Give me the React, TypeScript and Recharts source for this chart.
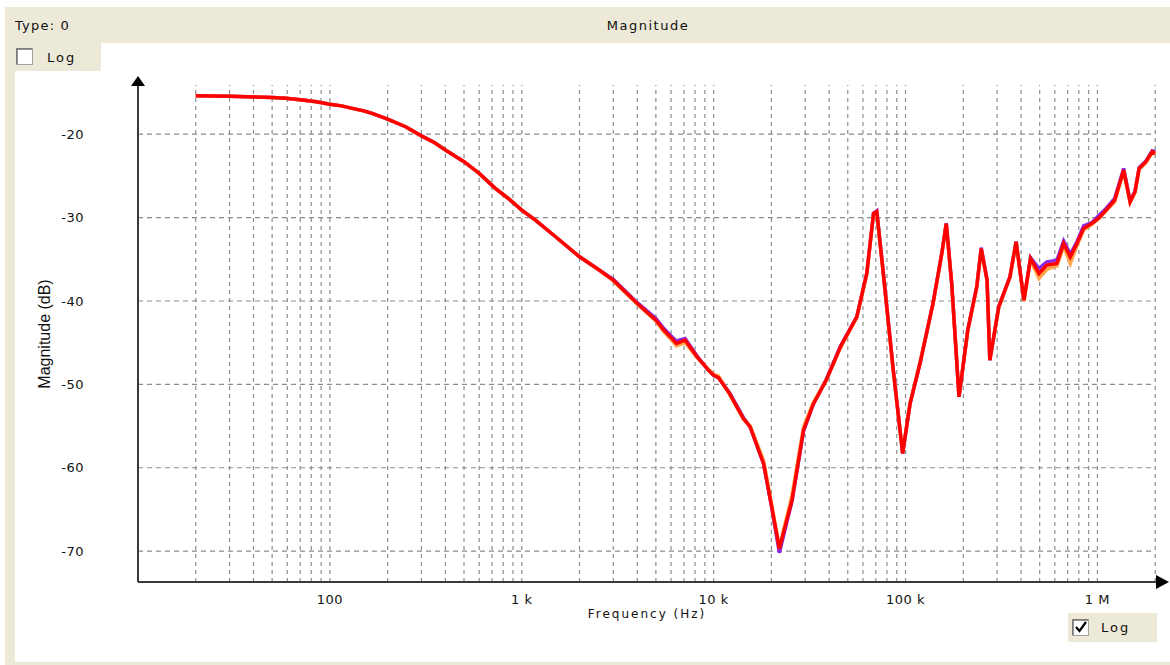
import React from "react";
import { LineChart, Line, XAxis, YAxis, ReferenceLine } from "recharts";

// frequency points (Hz) and magnitudes (dB)
const FREQS = [
  20, 30, 41, 50, 59, 72, 85, 100, 115, 131,
  150, 166, 200, 248, 300, 350, 400, 500, 600, 728,
  850, 1000, 1178, 1500, 2000, 2500, 3000, 4000, 5000, 5500,
  6000, 6400, 7100, 8200, 9400, 10000, 10600, 12100, 14300, 15500,
  18200, 20000, 22000, 25600, 29400, 33000, 38600, 45800, 55700, 62800,
  68100, 70800, 76600, 86300, 96600, 105600, 118900, 139000, 155000, 163000,
  174000, 190000, 211000, 235000, 248000, 266000, 275000, 292000, 306000, 350000,
  377000, 414000, 448000, 496000, 545000, 615000, 667000, 722000, 782000, 847000,
  936000, 1010000, 1110000, 1230000, 1370000, 1480000, 1570000, 1650000, 1790000, 1930000,
  2000000,
];

const RED_DB = [
  -15.4, -15.45, -15.55, -15.6, -15.7, -15.9, -16.1, -16.4, -16.6, -16.9,
  -17.2, -17.5, -18.2, -19.1, -20.2, -21.0, -21.9, -23.3, -24.7, -26.5,
  -27.7, -29.1, -30.3, -32.3, -34.7, -36.2, -37.5, -40.3, -42.3, -43.5,
  -44.4, -45.1, -44.7, -46.7, -48.3, -48.9, -49.2, -51.1, -54.1, -55.1,
  -59.5, -64.5, -69.7, -63.9, -55.5, -52.4, -49.5, -45.5, -41.9, -36.7,
  -29.5, -29.3, -36.7, -48.3, -58.3, -52.3, -47.5, -40.3, -34.1, -30.7,
  -37.9, -51.5, -43.5, -38.3, -33.7, -37.5, -47.1, -43.5, -40.7, -37.1,
  -32.9, -39.9, -34.9, -36.7, -35.7, -35.5, -33.1, -34.7, -33.1, -31.3,
  -30.7, -30.1, -29.1, -27.9, -24.3, -28.1, -26.9, -24.1, -23.3, -22.1,
  -22.3,
];

const PURPLE_DB = [
  -15.4, -15.45, -15.55, -15.6, -15.7, -15.9, -16.1, -16.4, -16.6, -16.9,
  -17.2, -17.5, -18.2, -19.1, -20.2, -21.0, -21.9, -23.3, -24.7, -26.5,
  -27.7, -29.1, -30.3, -32.3, -34.7, -36.2, -37.4, -40.2, -42.1, -43.3,
  -44.2, -44.8, -44.5, -46.6, -48.3, -48.9, -49.2, -51.0, -54.0, -55.1,
  -59.5, -64.6, -70.2, -64.0, -55.6, -52.4, -49.4, -45.4, -41.9, -36.7,
  -29.5, -29.2, -36.6, -48.2, -58.3, -52.3, -47.5, -40.3, -34.1, -30.7,
  -37.9, -51.5, -43.5, -38.3, -33.6, -37.5, -47.1, -43.5, -40.7, -37.1,
  -32.9, -39.9, -34.8, -36.1, -35.3, -35.1, -32.8, -34.4, -32.9, -31.0,
  -30.6, -29.8, -28.9, -27.7, -24.1, -28.0, -26.8, -24.0, -23.2, -22.0,
  -22.1,
];

const ORANGE_DB = [
  -15.4, -15.45, -15.55, -15.6, -15.7, -15.9, -16.1, -16.4, -16.6, -16.9,
  -17.2, -17.5, -18.2, -19.1, -20.2, -21.0, -21.9, -23.3, -24.7, -26.5,
  -27.7, -29.1, -30.3, -32.3, -34.7, -36.2, -37.6, -40.4, -42.4, -43.7,
  -44.6, -45.4, -45.0, -46.8, -48.2, -48.8, -49.0, -51.2, -54.2, -55.0,
  -59.1, -64.2, -69.5, -63.3, -55.1, -52.2, -49.5, -45.6, -42.0, -36.8,
  -29.6, -29.4, -36.8, -48.4, -58.2, -52.2, -47.4, -40.4, -34.2, -30.8,
  -38.0, -51.4, -43.6, -38.4, -33.8, -37.6, -47.0, -43.6, -40.8, -37.2,
  -33.0, -40.0, -35.1, -37.3, -36.2, -35.8, -33.4, -35.5, -33.4, -31.5,
  -30.8, -30.2, -29.2, -28.1, -24.5, -28.2, -27.0, -24.2, -23.4, -22.2,
  -22.4,
];

const X_TICKS = [100, 1000, 10000, 100000, 1000000];
const X_TICK_LABELS = ["100", "1 k", "10 k", "100 k", "1 M"];
const Y_TICKS = [-70, -60, -50, -40, -30, -20];
const GRID_FREQS = [
  20, 30, 40, 50, 60, 70, 80, 90,
  100, 200, 300, 400, 500, 600, 700, 800, 900,
  1000, 2000, 3000, 4000, 5000, 6000, 7000, 8000, 9000,
  10000, 20000, 30000, 40000, 50000, 60000, 70000, 80000, 90000,
  100000, 200000, 300000, 400000, 500000, 600000, 700000, 800000, 900000,
  1000000, 2000000,
];

const X_DOMAIN = [10, 2.25e6];
const Y_DOMAIN = [-73.7, -13.5];
const GRID_TOP = -14.1;
const GRID_RIGHT = 2000000;

const data = FREQS.map((f, i) => ({
  f,
  purple: PURPLE_DB[i],
  orange: ORANGE_DB[i],
  red: RED_DB[i],
}));

const BEIGE = "#ECE9D8";
const GRID = "#8c8c8c";
const FONT = "DejaVu Sans, Verdana, sans-serif";

function tickLabel(v: number) {
  const i = X_TICKS.indexOf(v);
  return i >= 0 ? X_TICK_LABELS[i] : String(v);
}

function Frame() {
  return (
    <svg width={1170} height={665} style={{ position: "absolute", left: 0, top: 0 }}>
      <rect x={0} y={0} width={1170} height={665} fill="#fff" />
      <rect x={5} y={7} width={1165} height={36} fill={BEIGE} />
      <rect x={5} y={43} width={10} height={622} fill={BEIGE} />
      <rect x={5} y={662} width={1165} height={3} fill={BEIGE} />
      <rect x={15} y={43} width={86} height={28} fill={BEIGE} />
      <text x={15} y={30} fontFamily={FONT} fontSize={13} letterSpacing={1.2} fill="#111">Type: 0</text>
      <text x={648} y={30} fontFamily={FONT} fontSize={13} letterSpacing={1.5} textAnchor="middle" fill="#111">Magnitude</text>
      {/* top-left checkbox */}
      <rect x={16.5} y={48.5} width={16} height={16} fill="#fff" stroke="#a0a0a0" />
      <path d="M17 64 V49 H32" fill="none" stroke="#6f6f6f" strokeWidth={1.5} />
      <text x={47} y={62} fontFamily={FONT} fontSize={13} letterSpacing={2} fill="#111">Log</text>
      {/* bottom-right checkbox */}
      <rect x={1068} y={613} width={89} height={29} fill={BEIGE} />
      <rect x={1072.5} y={619.5} width={16} height={16} fill="#fff" stroke="#a0a0a0" />
      <path d="M1073 635 V620 H1088" fill="none" stroke="#6f6f6f" strokeWidth={1.5} />
      <path d="M1076 627 L1079.5 631 L1086 622" fill="none" stroke="#000" strokeWidth={2.2} />
      <text x={1101} y={632} fontFamily={FONT} fontSize={13} letterSpacing={2} fill="#111">Log</text>
    </svg>
  );
}

function Overlay() {
  return (
    <svg width={1170} height={665} style={{ position: "absolute", left: 0, top: 0, pointerEvents: "none" }}>
      <polygon points="138,76 131,86 145,86" fill="#000" />
      <polygon points="1169,582 1156,575 1156,589" fill="#000" />
      <text x={647} y={618} fontFamily={FONT} fontSize={12} letterSpacing={2} textAnchor="middle" fill="#111">Frequency (Hz)</text>
      <text
        x={44}
        y={334}
        transform="rotate(-90 44 334)"
        fontFamily="Liberation Sans, Arial, sans-serif"
        fontSize={16}
        textAnchor="middle"
        dominantBaseline="central"
        fill="#111"
      >
        Magnitude (dB)
      </text>
    </svg>
  );
}

export default function App() {
  return (
    <div style={{ position: "absolute", left: 0, top: 0, width: 1170, height: 665, overflow: "hidden" }}>
      <Frame />
      <div style={{ position: "absolute", left: 0, top: 0 }}>
        <LineChart width={1170} height={665} data={data} margin={{ top: 80, right: 5, bottom: 43, left: 28 }}>
          <XAxis
            dataKey="f"
            type="number"
            scale="log"
            domain={X_DOMAIN}
            allowDataOverflow
            ticks={X_TICKS}
            tickFormatter={tickLabel}
            height={40}
            tickLine={false}
            tickSize={0}
            tickMargin={13}
            axisLine={{ stroke: "#3a3a3a", strokeWidth: 2 }}
            tick={{ fontSize: 13, fill: "#111", fontFamily: FONT, letterSpacing: 0.5 }}
          />
          <YAxis
            type="number"
            domain={Y_DOMAIN}
            allowDataOverflow
            ticks={Y_TICKS}
            width={110}
            tickLine={false}
            tickSize={0}
            tickMargin={54}
            axisLine={{ stroke: "#3a3a3a", strokeWidth: 2 }}
            tick={{ fontSize: 13, fill: "#111", fontFamily: FONT, letterSpacing: 0.5 }}
          />
          {GRID_FREQS.map((f) => (
            <ReferenceLine
              key={"v" + f}
              segment={[{ x: f, y: Y_DOMAIN[0] }, { x: f, y: GRID_TOP }]}
              stroke={GRID}
              strokeWidth={1.2}
              strokeDasharray="4 4"
            />
          ))}
          {Y_TICKS.map((v) => (
            <ReferenceLine
              key={"h" + v}
              segment={[{ x: X_DOMAIN[0], y: v }, { x: GRID_RIGHT, y: v }]}
              stroke={GRID}
              strokeWidth={1.2}
              strokeDasharray="5 4"
            />
          ))}
          <Line type="linear" dataKey="purple" stroke="#8a2be2" strokeWidth={3.5} dot={false} isAnimationActive={false} />
          <Line type="linear" dataKey="orange" stroke="#ffa54a" strokeWidth={3.5} dot={false} isAnimationActive={false} />
          <Line type="linear" dataKey="red" stroke="#ff0000" strokeWidth={3.5} dot={false} isAnimationActive={false} />
        </LineChart>
      </div>
      <Overlay />
    </div>
  );
}
